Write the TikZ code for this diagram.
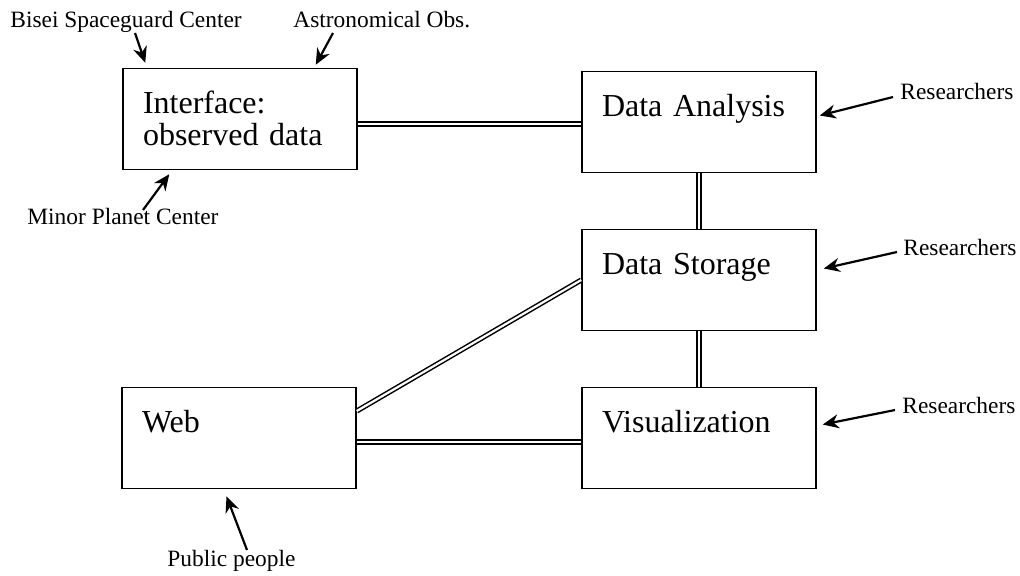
\documentclass[tikz,border=0pt]{standalone}
\usepackage{fontspec}
\setmainfont{Liberation Serif}
\usetikzlibrary{arrows.meta}
\tikzstyle{block} = [rectangle, draw=black, line width=0.75pt, text width=97pt,
inner xsep=10pt, inner ysep=10.5pt, text height=12pt, text depth=17.5pt,
align=left, font=\fontsize{16}{16}\selectfont]
\tikzstyle{tag} = [inner sep=0pt, font=\fontsize{11.7}{13}\selectfont]
\tikzstyle{link} = [double, double distance=1.1pt, line width=0.75pt]
\tikzstyle{arrow} = [line width=1.1pt, ->, >={Stealth[length=8pt, width=7pt]}]

\begin{document}
\begin{tikzpicture}[x=0.5pt, y=-0.5pt, node distance=79pt]
              \useasboundingbox (0,0) rectangle (1020,575);
              \node (ana) [block] at (699,122) {Data Analysis};
              \node (sto) [block, below of=ana] {Data Storage};
              \node (vis) [block, below of=sto] {Visualization};
              \node (intf) [block, left of=ana, xshift=-150.5pt, yshift=1.5pt]
              {Interface:\\observed data};
              \node (web) [block, left of=vis, xshift=-151pt] {Web};

              \node (bisei) [tag, anchor=base west] at (10,27) {Bisei Spaceguard Center};
              \node (astro) [tag, anchor=base west] at (293,27) {Astronomical Obs.};
              \node (minor) [tag, anchor=base west] at (27,224) {Minor Planet Center};
              \node (res1) [tag, anchor=base west] at (900,99) {Researchers};
              \node (res2) [tag, anchor=base west] at (903,255) {Researchers};
              \node (res3) [tag, anchor=base west] at (902,413) {Researchers};
              \node (public) [tag, anchor=base west] at (167,566) {Public people};

              \draw [link] ([yshift=-2.5pt]intf.east) -- ([yshift=-2.5pt]intf.east -| ana.west);
              \draw [link] (ana.south) -- (sto.north);
              \draw [link] (sto.south) -- (vis.north);
              \draw [link] ([yshift=13.5pt]web.east) -- (sto.west);
              \draw [link] ([yshift=-2pt]web.east) -- ([yshift=-2pt]web.east -| vis.west);

              \draw [arrow] ([shift={(125,6)}]bisei.base west) -- ([shift={(23,-5)}]intf.north west);
              \draw [arrow] ([shift={(40,6)}]astro.base west) -- ([shift={(-42,-3)}]intf.north east);
              \draw [arrow] ([shift={(116,-14)}]minor.base west) -- ([shift={(47,4)}]intf.south west);
              \draw [arrow] ([shift={(-7,-2)}]res1.base west) -- ([shift={(3,-6.5)}]ana.east);
              \draw [arrow] ([shift={(-6,-3)}]res2.base west) -- ([shift={(7,-11.5)}]sto.east);
              \draw [arrow] ([shift={(-7,-3)}]res3.base west) -- ([shift={(6,-13.5)}]vis.east);
              \draw [arrow] ([shift={(80,-16)}]public.base west) -- ([shift={(-12.5,7)}]web.south);
            \end{tikzpicture}
\end{document}
